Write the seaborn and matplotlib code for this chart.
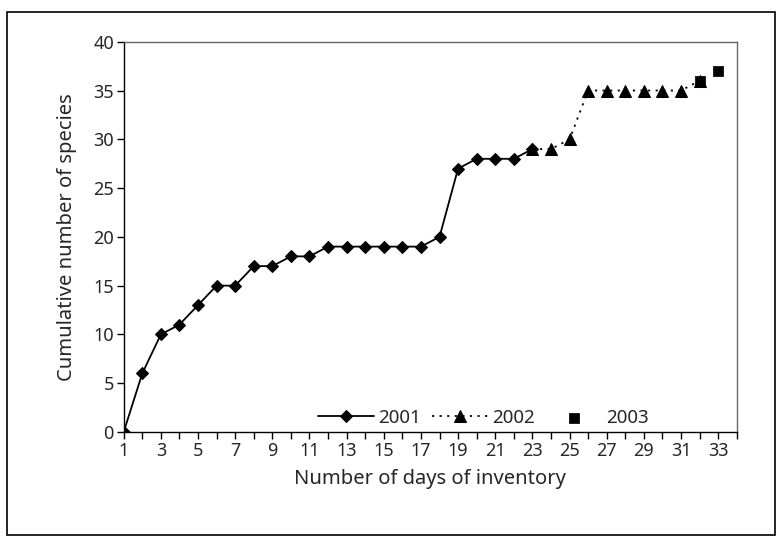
import numpy as np
import pandas as pd
import matplotlib
matplotlib.use("Agg")
import matplotlib.pyplot as plt
import seaborn as sns

# datos
days_2001 = list(range(1, 24))
species_2001 = [0, 6, 10, 11, 13, 15, 15, 17, 17, 18, 18, 19, 19, 19, 19, 19, 19, 20, 27, 28, 28, 28, 29]
days_2002 = list(range(23, 33))
species_2002 = [29, 29, 30, 35, 35, 35, 35, 35, 35, 36]
days_2003 = [32, 33]
species_2003 = [36, 37]
tick_labels = [str(d) for d in range(1, 34, 2)]

sns.set_style("white")
plt.rcParams['font.family'] = ['Noto Sans', 'DejaVu Sans']

fig = plt.figure(figsize=(7.78, 5.42), dpi=100)
ax = fig.add_axes([0.159, 0.203, 0.788, 0.72])

sns.lineplot(x=days_2001, y=species_2001, ax=ax, color='black', lw=1.3,
             marker='D', markersize=6.5, markeredgecolor='black', label='2001')
sns.lineplot(x=days_2002, y=species_2002, ax=ax, color='black', lw=1.3,
             linestyle=(0, (1.2, 3)),
             marker='^', markersize=8, markeredgecolor='black', label='2002')
sns.scatterplot(x=days_2003, y=species_2003, ax=ax, color='black', marker='s', s=45,
                edgecolor='black', label='2003', zorder=5)

ax.set_xlim(1, 34)
ax.set_ylim(0, 40)
ax.set_yticks(np.arange(0, 41, 5))
ax.set_xticks(range(1, 35))
ax.set_xticklabels([str(d) if str(d) in tick_labels else '' for d in range(1, 35)])
ax.tick_params(axis='both', direction='out', length=5, width=1, color='black',
               labelsize=13, bottom=True, left=True, pad=2)
for s in ax.spines.values():
    s.set_color('black')
    s.set_linewidth(1)
ax.spines['top'].set_color('#666666')
ax.spines['right'].set_color('#666666')

ax.set_xlabel('Number of days of inventory', fontsize=14.5, labelpad=7)
ax.set_ylabel('Cumulative number of species', fontsize=14.5, labelpad=12)

ax.legend(loc='center', bbox_to_anchor=(0.587, 0.036), ncol=3, frameon=False,
          fontsize=13.5, handlelength=3, columnspacing=0.6, handletextpad=0.2)

# marco exterior
fig.patches.append(plt.Rectangle((0.009, 0.012), 0.987, 0.965, transform=fig.transFigure,
                                 fill=False, edgecolor='black', lw=1.2))

fig.savefig('out.png', dpi=100)
